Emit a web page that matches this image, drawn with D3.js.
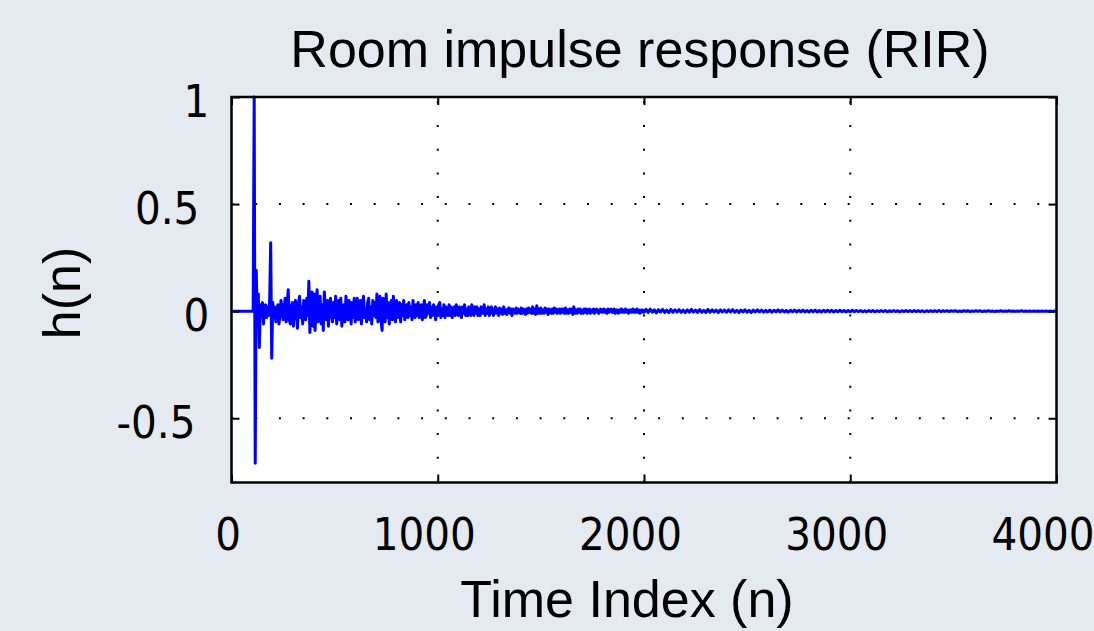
<!DOCTYPE html>
<html>
<head>
<meta charset="utf-8">
<script src="https://cdn.jsdelivr.net/npm/d3@7.9.0/dist/d3.min.js"></script>
<style>
  html, body { margin: 0; padding: 0; background: #e5e9f0; }
  svg { display: block; }
  .tick-label { font-family: "DejaVu Sans Condensed", "DejaVu Sans", sans-serif; font-stretch: condensed; font-size: 45px; fill: #000; }
  .label { font-family: "Liberation Sans", Arial, sans-serif; fill: #000; }
</style>
</head>
<body>
<svg id="chart" width="1094" height="631"></svg>
<script>
// n = 0..1995, every 5 samples
const earlyStep = 5;
const rirEarly = [
  0, 0, 0, 0, 0, 0, 0, 0, 0, 0, 0, 0, 0, 0, 0, 0, 0, 0, 0, 0, 0, 0,
  1.0, -0.71, 0.19, -0.05, 0.08, -0.17, 0.03, -0.02, 0.04, -0.06, 0.02, 0.03, -0.03, 0.02, -0.02, 0.05, 0.32, -0.22,
  0.04, -0.03, 0.02, -0.05, 0.01, 0.03, -0.06, -0.02, 0.05, 0.02, -0.04, 0.01, 0.06, -0.05, 0.03, 0.10, -0.04, -0.06, 0.02, 0.04,
  -0.07, 0.03, 0.05, -0.02, -0.08, 0.04, 0.07, -0.03, 0.02, -0.06, 0.05, 0.01, -0.04, 0.06, -0.02, 0.14, -0.10, 0.03, 0.09, -0.07,
  0.08, -0.09, 0.02, 0.10, -0.05, -0.02, 0.07, -0.06, 0.03, -0.09, 0.09, 0.01, -0.04, 0.05, -0.07, 0.03, 0.06, -0.02, -0.05, 0.04,
  -0.03, 0.07, -0.06, 0.02, 0.05, -0.04, 0.06, -0.07, 0.01, 0.03, -0.05, 0.07, -0.02, -0.04, 0.05, 0.02, -0.06, 0.04, -0.03, 0.06,
  -0.05, 0.02, 0.06, -0.04, -0.02, 0.05, -0.06, 0.03, 0.07, -0.03, 0.01, -0.05, 0.04, 0.06, -0.04, 0.02, -0.06, 0.05, -0.02, 0.04,
  -0.03, 0.08, -0.05, 0.02, 0.07, -0.04, -0.09, 0.06, 0.03, -0.05, 0.08, -0.03, 0.04, -0.06, 0.02, 0.05, -0.04, 0.07, -0.02, -0.05,
  0.05, -0.03, 0.02, 0.04, -0.05, 0.03, -0.02, 0.05, -0.04, 0.01, 0.03, -0.03, 0.04, -0.02, 0.02, -0.04, 0.05, -0.01, -0.03, 0.03,
  -0.02, 0.04, -0.03, 0.02, 0.03, -0.04, 0.01, 0.05, -0.03, -0.02, 0.03, -0.01, 0.04, -0.03, 0.02, -0.02, 0.03, 0.01, -0.04, 0.02,
  -0.02, 0.03, 0.04, -0.03, 0.01, -0.02, 0.03, -0.03, 0.02, 0.01, -0.02, 0.03, -0.02, 0.02, -0.03, 0.01, 0.02, -0.02, 0.03, -0.01,
  -0.02, 0.02, 0.01, -0.03, 0.02, -0.01, 0.03, -0.02, 0.01, -0.02, 0.02, 0.01, -0.02, 0.03, -0.01, -0.02, 0.02, -0.01, 0.02, -0.02,
  0.01, -0.02, 0.02, 0.01, -0.01, 0.03, -0.02, 0.01, -0.01, 0.02, -0.02, 0.01, 0.02, -0.01, -0.02, 0.01, 0.02, -0.01, 0.01, -0.02,
  0.015, -0.01, 0.01, -0.015, 0.02, -0.01, 0.005, -0.015, 0.01, 0.015, -0.01, 0.01, -0.02, 0.01, 0.005, -0.01, 0.015, -0.01, 0.01, -0.005,
  -0.01, 0.015, -0.01, 0.01, 0.005, -0.015, 0.01, -0.01, 0.015, -0.005, 0.01, -0.01, 0.02, -0.01, 0.01, -0.015, 0.025, -0.01, 0.01, -0.01,
  0.015, -0.01, 0.005, -0.01, 0.015, -0.005, 0.01, -0.015, 0.01, 0.005, -0.01, 0.01, -0.01, 0.015, -0.005, 0.01, -0.01, 0.005, 0.01, -0.01,
  0.01, -0.005, 0.01, -0.01, 0.015, -0.01, 0.005, -0.01, 0.01, -0.005, 0.01, -0.015, 0.02, -0.01, 0.005, -0.01, 0.01, -0.005, 0.01, -0.01,
  0.005, -0.01, 0.01, -0.005, 0.01, -0.01, 0.005, 0.01, -0.01, 0.005, -0.005, 0.01, -0.01, 0.005, 0.01, -0.005, -0.01, 0.005, 0.01, -0.005,
  -0.005, 0.01, -0.005, 0.005, -0.01, 0.01, -0.005, 0.005, 0.01, -0.005, -0.005, 0.01, -0.01, 0.005, 0.005, -0.01, 0.005, -0.005, 0.01, -0.005,
  0.005, -0.005, 0.01, -0.005, 0.005, -0.01, 0.005, 0.005, -0.005, 0.01, -0.005, 0.005, -0.005, 0.01, -0.005, 0.005, -0.01, 0.005, -0.005, 0.005
];
// n = 2000..4000, every 10 samples
const lateStart = 2000;
const lateStep = 10;
const rirLate = [
  -0.005, 0.008, -0.006, 0.01, -0.005, 0.006, -0.008, 0.007, -0.004, 0.008, -0.006, 0.005, -0.007, 0.008, -0.005, 0.006, -0.004, 0.007, -0.006, 0.005,
  -0.007, 0.006, -0.005, 0.008, -0.004, 0.005, -0.006, 0.007, -0.005, 0.004, -0.006, 0.008, -0.005, 0.006, -0.004, 0.005, -0.007, 0.006, -0.004, 0.005,
  -0.005, 0.006, -0.004, 0.007, -0.005, 0.004, -0.006, 0.005, -0.004, 0.006, -0.005, 0.004, -0.006, 0.005, -0.004, 0.006, -0.003, 0.005, -0.005, 0.004,
  -0.004, 0.005, -0.005, 0.004, -0.003, 0.006, -0.004, 0.005, -0.004, 0.003, -0.005, 0.004, -0.003, 0.005, -0.004, 0.004, -0.003, 0.005, -0.004, 0.003,
  -0.004, 0.004, -0.003, 0.005, -0.004, 0.003, -0.004, 0.004, -0.003, 0.004, -0.003, 0.004, -0.004, 0.003, -0.003, 0.004, -0.003, 0.003, -0.004, 0.003,
  -0.003, 0.004, -0.003, 0.003, -0.002, 0.003, -0.003, 0.002, -0.003, 0.003, -0.002, 0.003, -0.003, 0.002, -0.002, 0.003, -0.002, 0.003, -0.003, 0.002,
  -0.002, 0.003, -0.002, 0.002, -0.003, 0.002, -0.002, 0.003, -0.002, 0.002, -0.002, 0.003, -0.002, 0.002, -0.002, 0.002, -0.003, 0.002, -0.002, 0.002,
  -0.002, 0.002, -0.002, 0.003, -0.002, 0.002, -0.001, 0.002, -0.002, 0.002, -0.001, 0.002, -0.002, 0.001, -0.002, 0.002, -0.001, 0.002, -0.002, 0.001,
  -0.001, 0.002, -0.001, 0.002, -0.002, 0.001, -0.001, 0.002, -0.001, 0.001, -0.002, 0.001, -0.001, 0.002, -0.001, 0.001, -0.001, 0.002, -0.001, 0.001,
  -0.001, 0.001, -0.001, 0.002, -0.001, 0.001, -0.001, 0.001, -0.001, 0.001, -0.001, 0.001, -0.001, 0.001, -0.001, 0.001, -0.001, 0.001, -0.001, 0.001, 0
];
const xTicks = [0, 1000, 2000, 3000, 4000];
const yTicks = [-0.5, 0, 0.5, 1];
const titleText = 'Room impulse response (RIR)';
const xLabelText = 'Time Index (n)';
const yLabelText = 'h(n)';

const width = 1094, height = 631;
const margin = {top: 97, right: 37.5, bottom: 148.5, left: 231.5};
const tickLen = 8;

const points = rirEarly.map((v, i) => [i * earlyStep, v])
  .concat(rirLate.map((v, i) => [lateStart + i * lateStep, v]));

const svg = d3.select('#chart');

let x = d3.scaleLinear().domain([0, 4000]).range([margin.left, width - margin.right]);
let y = d3.scaleLinear().domain([-0.8, 1]).range([height - margin.bottom, margin.top]);

// plot area
svg.append('rect')
  .attr('x', x(0)).attr('y', y(1))
  .attr('width', x(4000) - x(0)).attr('height', y(-0.8) - y(1))
  .attr('fill', '#fff');

// dotted grid
svg.append('g').selectAll('line')
  .data(xTicks.slice(1, -1))
  .join('line')
  .attr('x1', d => x(d)).attr('x2', d => x(d))
  .attr('y1', y(-0.8)).attr('y2', y(1))
  .attr('stroke', '#000').attr('stroke-width', 2)
  .attr('stroke-dasharray', '2 21.7');
svg.append('g').selectAll('line')
  .data(yTicks.filter(d => d < 1))
  .join('line')
  .attr('x1', x(0)).attr('x2', x(4000))
  .attr('y1', d => y(d)).attr('y2', d => y(d))
  .attr('stroke', '#000').attr('stroke-width', 2)
  .attr('stroke-dasharray', '2 21.7');

// the response
let line = d3.line()
  .x(d => x(d[0]))
  .y(d => y(d[1]));
svg.append('path')
  .datum(points)
  .attr('d', line)
  .attr('fill', 'none')
  .attr('stroke', '#0000ff')
  .attr('stroke-width', 3)
  .attr('stroke-linejoin', 'round');

// inward ticks on all four sides
const noDomain = g => { g.select('.domain').remove(); g.selectAll('line').attr('stroke-width', 2); };
svg.append('g').attr('transform', `translate(0,${y(-0.8)})`)
  .call(d3.axisBottom(x).tickValues(xTicks).tickSize(-tickLen).tickFormat('')).call(noDomain);
svg.append('g').attr('transform', `translate(0,${y(1)})`)
  .call(d3.axisTop(x).tickValues(xTicks).tickSize(-tickLen).tickFormat('')).call(noDomain);
svg.append('g').attr('transform', `translate(${x(0)},0)`)
  .call(d3.axisLeft(y).tickValues(yTicks).tickSize(-tickLen).tickFormat('')).call(noDomain);
svg.append('g').attr('transform', `translate(${x(4000)},0)`)
  .call(d3.axisRight(y).tickValues(yTicks).tickSize(-tickLen).tickFormat('')).call(noDomain);

// frame
svg.append('rect')
  .attr('x', x(0)).attr('y', y(1))
  .attr('width', x(4000) - x(0)).attr('height', y(-0.8) - y(1))
  .attr('fill', 'none').attr('stroke', '#000').attr('stroke-width', 2.5);

// tick labels
svg.append('g').selectAll('text')
  .data(xTicks)
  .join('text')
  .attr('class', 'tick-label')
  .attr('x', d => x(d)).attr('y', 550)
  .attr('text-anchor', 'middle')
  .text(d => d)
  .attr('dx', function () { return -0.13 * this.getComputedTextLength(); });

svg.append('g').selectAll('text')
  .data(yTicks)
  .join('text')
  .attr('class', 'tick-label')
  .attr('x', 216).attr('y', d => y(d) + 20)
  .attr('text-anchor', 'end')
  .text(d => d)
  .attr('dx', function () { return -0.26 * this.getComputedTextLength(); });

// title and axis labels
svg.append('text')
  .attr('class', 'label')
  .attr('x', 640).attr('y', 67)
  .attr('text-anchor', 'middle')
  .attr('font-size', 52)
  .text(titleText);

svg.append('text')
  .attr('class', 'label')
  .attr('x', 627).attr('y', 617)
  .attr('text-anchor', 'middle')
  .attr('font-size', 52)
  .text(xLabelText);

svg.append('text')
  .attr('class', 'label')
  .attr('transform', 'translate(80,293) rotate(-90)')
  .attr('text-anchor', 'middle')
  .attr('font-size', 52)
  .text(yLabelText);
</script>
</body>
</html>
